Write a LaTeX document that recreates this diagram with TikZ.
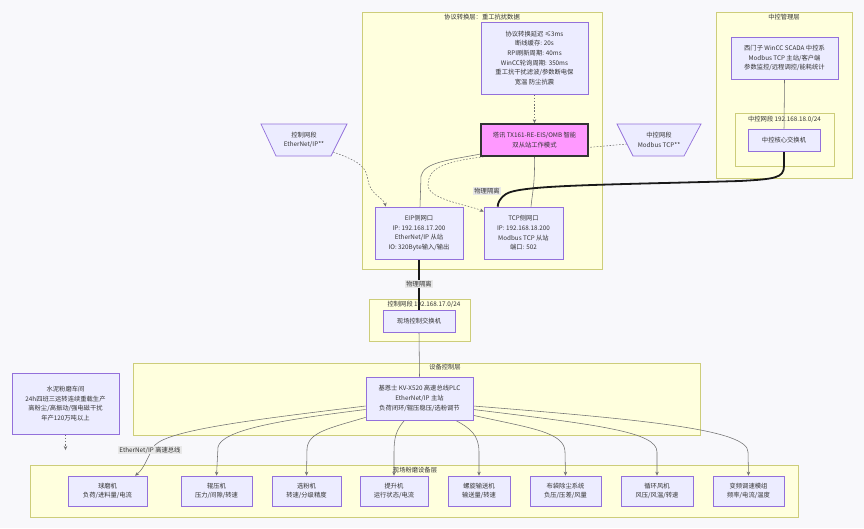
\documentclass[tikz,border=0pt]{standalone}
\usepackage{fontspec}
\setmainfont{Noto Sans CJK SC}
\usetikzlibrary{arrows.meta,calc}
\definecolor{bgc}{RGB}{248,248,251}
\definecolor{clf}{HTML}{FFFFDE}
\definecolor{cls}{HTML}{CDCD7A}
\definecolor{ndf}{HTML}{ECECFF}
\definecolor{nds}{HTML}{9370DB}
\definecolor{mag}{HTML}{FF99FF}
\definecolor{txt}{HTML}{333333}
\definecolor{lnc}{HTML}{707070}
\definecolor{lbl}{HTML}{E8E8E8}
\pgfdeclarelayer{bg}\pgfdeclarelayer{edges}\pgfsetlayers{bg,edges,main}
\tikzset{
  box/.style={draw=nds, fill=ndf, line width=0.7pt, text=txt, align=center, inner sep=0pt, font=\fontsize{6.3}{9.7}\selectfont},
  trap/.style={draw=nds, fill=ndf, line width=0.7pt},
  traptext/.style={text=txt, align=center, inner sep=0pt, font=\fontsize{6.3}{9.7}\selectfont},
  cluster/.style={draw=cls, fill=clf, line width=0.6pt},
  ctitle/.style={text=txt, font=\fontsize{6.3}{8}\selectfont, inner sep=0pt},
  link/.style={draw=lnc, line width=0.55pt},
  arr/.style={-{Stealth[length=4pt,width=3.5pt]}},
  dotlink/.style={draw=lnc, line width=0.55pt, dash pattern=on 1.6pt off 1.6pt},
  heavylink/.style={draw=black!90, line width=1.8pt},
  elabel/.style={fill=lbl, text=txt, font=\fontsize{6.3}{8}\selectfont, inner sep=1pt},
  dev/.style={box, minimum height=30pt},
}
\begin{document}
\begin{tikzpicture}[x=1pt,y=-1pt]
\useasboundingbox (0,0) rectangle (864,528);
\begin{pgfonlayer}{bg}
  \fill[bgc] (0,0) rectangle (864,528);
  \draw[cluster] (362,12) rectangle (602,269);
  \draw[cluster] (716,12) rectangle (852,178);
  \draw[cluster] (735,113) rectangle (834,166);
  \draw[cluster] (369,299) rectangle (470,341);
  \draw[cluster] (133,363) rectangle (700,435);
  \draw[cluster] (30,465) rectangle (798,517);
\end{pgfonlayer}
% cluster titles
\node[ctitle] (t1) at (482,17) {协议转换层：重工抗扰数据};
\node[ctitle] (t2) at (784,17) {中控管理层};
\node[ctitle] (t3) at (784.5,119.5) {中控网段 192.168.18.0/24};
\node[ctitle] (t4) at (424,304) {控制网段 192.168.17.0/24};
\node[ctitle] (t5) at (445,367) {设备控制层};
\node[ctitle] (t6) at (415,470) {现场粉磨设备层};

% nodes
\node[box, minimum width=107pt, minimum height=72pt] (delay) at (534.5,58)
  {协议转换延迟 ≤3ms\\断线缓存: 20s\\RPI刷新周期: 40ms\\WinCC轮询周期: 350ms\\重工抗干扰滤波/参数断电保\\宽温 防尘抗震};
\node[box, fill=mag, draw=txt, line width=1.8pt, minimum width=107pt, minimum height=32pt] (tx) at (534.5,140)
  {塔讯 TX161-RE-EIS/OMB 智能\\双从站工作模式};
\node[box, minimum width=88pt, minimum height=52pt] (eip) at (419,233)
  {EIP侧网口\\IP: 192.168.17.200\\EtherNet/IP 从站\\IO: 320Byte输入/输出};
\node[box, minimum width=79pt, minimum height=52pt] (tcp) at (523.5,233)
  {TCP侧网口\\IP: 192.168.18.200\\Modbus TCP 从站\\端口: 502};
\draw[trap] (261,124) -- (347,124) -- (331,156) -- (276,156) -- cycle;
\node[traptext, minimum width=86pt, minimum height=32pt] (ctrlseg) at (304,140) {控制网段\\EtherNet/IP**};
\draw[trap] (617,124) -- (701,124) -- (684,156) -- (633,156) -- cycle;
\node[traptext, minimum width=84pt, minimum height=32pt] (ccseg) at (659,140) {中控网段\\Modbus TCP**};
\node[box, minimum width=107pt, minimum height=42pt] (wincc) at (784.5,58)
  {西门子 WinCC SCADA 中控系\\Modbus TCP 主站/客户端\\参数监控/远程调控/能耗统计};
\node[box, minimum width=72pt, minimum height=22pt] (core) at (784,140) {中控核心交换机};
\node[box, minimum width=72pt, minimum height=22pt] (fsw) at (419,321) {现场控制交换机};
\node[box, minimum width=107pt, minimum height=43pt] (plc) at (419.5,398.5)
  {基恩士 KV-X520 高速总线PLC\\EtherNet/IP 主站\\负荷闭环/辊压稳压/选粉调节};
\node[box, minimum width=107pt, minimum height=61pt] (shop) at (65.5,403.5)
  {水泥粉磨车间\\24h四班三运转连续重载生产\\高粉尘/高振动/强电磁干扰\\年产120万吨以上};
\coordinate (shopend) at (65.5,450);

\node[dev, minimum width=79pt] (ball) at (107.5,491) {球磨机\\负荷/进料量/电流};
\node[dev, minimum width=71pt] (roll) at (216.5,491) {辊压机\\压力/间隙/转速};
\node[dev, minimum width=69pt] (sep) at (306.5,491) {选粉机\\转速/分级精度};
\node[dev, minimum width=68pt] (elev) at (394,491) {提升机\\运行状态/电流};
\node[dev, minimum width=62pt] (screw) at (479,491) {螺旋输送机\\输送量/转速};
\node[dev, minimum width=71pt] (bag) at (565.5,491) {布袋除尘系统\\负压/压差/风量};
\node[dev, minimum width=72pt] (fan) at (657,491) {循环风机\\风压/风温/转速};
\node[dev, minimum width=71pt] (vfd) at (748.5,491) {变频调速模组\\频率/电流/温度};

% edges
\begin{pgfonlayer}{edges}
  \draw[dotlink, arr] (delay.south) -- (tx.north);
  \draw[dotlink, arr] ($(ctrlseg.center)+(29,12)$) .. controls (362,162) and (366,168) .. (368,180)
      .. controls (370,195) and (384,198) .. ($(eip.north west)+(11,0)$);
  \draw[link] ($(tx.south west)+(1,-3)$) .. controls (450,160) and (424,162) .. (421,176) -- ($(eip.north)+(1,0)$);
  \draw[link] (tx.south) .. controls (535,185) and (532,195) .. ($(tcp.north)+(7.5,0)$);
  \draw[dotlink, arr] ($(ccseg.center)+(-32,4)$) -- (482,157)
      .. controls (440,162) and (428,170) .. (428,185)
      .. controls (428,200) and (470,205) .. ($(tcp.north west)+(0,5)$);
  \draw[heavylink] (core.south) -- (784,166) .. controls (784,178) and (775,179) .. (740,181)
      .. controls (600,185) and (520,185) .. (506,194) .. controls (499,199) and (498,203) .. ($(tcp.north west)+(14,0)$);
  \draw[link] (wincc.south) -- (core.north);
  \draw[heavylink] (eip.south) -- (fsw.north);
  \draw[link] (fsw.south) -- (plc.north);
  \draw[dotlink, arr] (shop.south) -- (shopend);
  \draw[link, arr] ($(plc.west)+(0,7.5)$) .. controls (250,420) and (170,430) .. (155,445)
      .. controls (148,455) and (145,468) .. ($(ball.north)+(27.5,0)$);
  \draw[link, arr] ($(plc.west)+(0,11)$) .. controls (280,420) and (222,430) .. (218,447) -- (roll.north);
  \draw[link, arr] ($(plc.south west)+(0,-3)$) .. controls (330,428) and (308,432) .. (307,449) -- (sep.north);
  \draw[link, arr] ($(plc.south)+(-15,0)$) .. controls (396,430) and (394,438) .. (394,452) -- (elev.north);
  \draw[link, arr] ($(plc.south)+(36,0)$) .. controls (470,428) and (479,435) .. (479,452) -- (screw.north);
  \draw[link, arr] ($(plc.south east)+(0,-5)$) .. controls (530,428) and (565,432) .. (565,452) -- (bag.north);
  \draw[link, arr] ($(plc.east)+(0,11)$) .. controls (600,425) and (657,432) .. (657,452) -- (fan.north);
  \draw[link, arr] ($(plc.east)+(0,7.5)$) .. controls (650,420) and (748,430) .. (748,452) -- (vfd.north);
\end{pgfonlayer}
% edge labels
\node[elabel] (l1) at (487,191) {物理隔离};
\node[elabel] (l2) at (419,284) {物理隔离};
\node[elabel] (l3) at (150,450) {EtherNet/IP 高速总线};
\end{tikzpicture}
\end{document}
